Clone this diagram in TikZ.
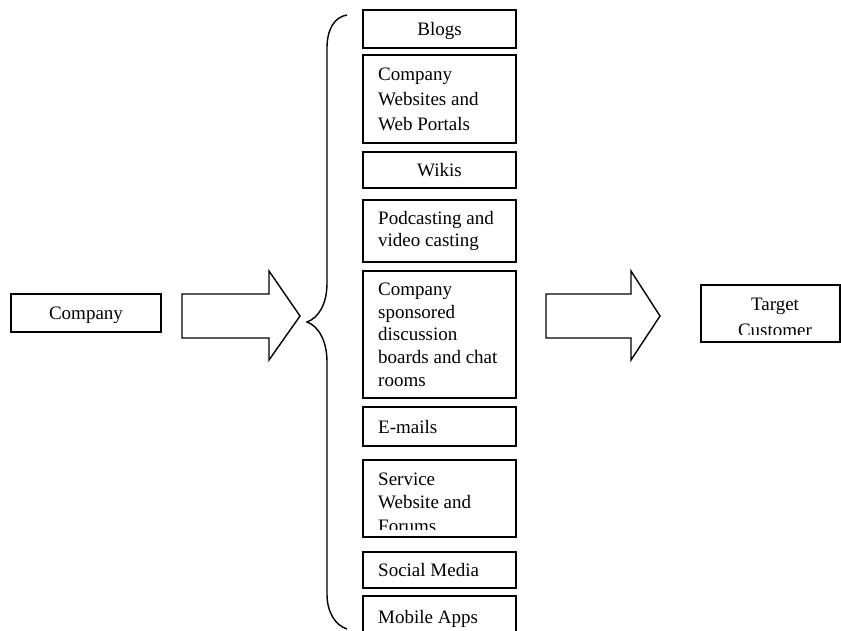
\documentclass[tikz,border=0pt]{standalone}
\usepackage{fontspec}
\setmainfont{Liberation Serif}
\begin{document}
\begin{tikzpicture}[x=1pt,y=-1pt,
  box/.style={draw=black,line width=1.6pt,fill=none,inner sep=0pt,rectangle},
  lbl/.style={inner sep=0pt,font=\fontsize{19}{23}\selectfont},
  shape line/.style={draw=black,line width=1.4pt,line join=miter}]
\clip (0,0) rectangle (841,631);
\fill[white] (0,0) rectangle (841,631);

% Company
\node[box,minimum width=150pt,minimum height=38pt] (company) at (86,313) {};
\node[lbl,anchor=base] (companyT) at (86,319) {Company};

% left big arrow
\draw[shape line] (182,294) -- (269,294) -- (269,271) -- (300,316) -- (269,360) -- (269,338) -- (182,338) -- cycle;

% brace
\draw[line width=1.4pt] (347,15) .. controls (334,17) and (327,30) .. (327,48) -- (327,283)
  .. controls (327,305) and (318,318) .. (307,322)
  .. controls (318,326) and (327,340) .. (327,362) -- (327,594)
  .. controls (327,612) and (335,625) .. (347,629);

% column boxes
\node[box,minimum width=153pt,minimum height=38pt] (blogs) at (439.5,29) {};
\node[box,minimum width=153pt,minimum height=88pt] (cweb) at (439.5,99) {};
\node[box,minimum width=153pt,minimum height=36pt] (wikis) at (439.5,170) {};
\node[box,minimum width=153pt,minimum height=62pt] (pod) at (439.5,231) {};
\node[box,minimum width=153pt,minimum height=127pt] (spons) at (439.5,334.5) {};
\node[box,minimum width=153pt,minimum height=39pt] (emails) at (439.5,426.5) {};
\node[box,minimum width=153pt,minimum height=77pt] (serv) at (439.5,498.5) {};
\node[box,minimum width=153pt,minimum height=36pt] (social) at (439.5,570) {};
\node[box,minimum width=153pt,minimum height=60pt] (mobile) at (439.5,626) {};

\node[lbl,anchor=base] (blogsT) at (439.5,36) {Blogs};
\node[lbl,anchor=base west] (cweb1) at (378,81) {Company};
\node[lbl,anchor=base west] (cweb2) at (378,106) {Websites and};
\node[lbl,anchor=base west] (cweb3) at (378,131) {Web Portals};
\node[lbl,anchor=base] (wikisT) at (439.5,177) {Wikis};
\node[lbl,anchor=base west] (pod1) at (378,225) {Podcasting and};
\node[lbl,anchor=base west] (pod2) at (378,247) {video casting};
\node[lbl,anchor=base west] (sp1) at (378,295) {Company};
\node[lbl,anchor=base west] (sp2) at (378,318) {sponsored};
\node[lbl,anchor=base west] (sp3) at (378,340) {discussion};
\node[lbl,anchor=base west] (sp4) at (378,363) {boards and chat};
\node[lbl,anchor=base west] (sp5) at (378,386) {rooms};
\node[lbl,anchor=base west] (emailsT) at (378,433) {E-mails};
\node[lbl,anchor=base west] (sv1) at (378,485) {Service};
\node[lbl,anchor=base west] (sv2) at (378,508) {Website and};
\begin{scope}
  \clip (364,460) rectangle (515,529);
  \node[lbl,anchor=base west] (sv3) at (378,532) {Forums};
\end{scope}
\node[lbl,anchor=base west] (socialT) at (378,576) {Social Media};
\node[lbl,anchor=base west] (mobileT) at (378,623) {Mobile Apps};

% right big arrow
\draw[shape line] (546,294) -- (631,294) -- (631,271) -- (660,316) -- (631,360) -- (631,338) -- (546,338) -- cycle;

% target
\node[box,minimum width=139pt,minimum height=57pt] (target) at (770.5,313.5) {};
\begin{scope}
  \clip (702,286) rectangle (839,334);
  \node[lbl,anchor=base] (target1) at (775,310) {Target};
  \node[lbl,anchor=base] (target2) at (775,336) {Customer};
\end{scope}
\end{tikzpicture}
\end{document}
